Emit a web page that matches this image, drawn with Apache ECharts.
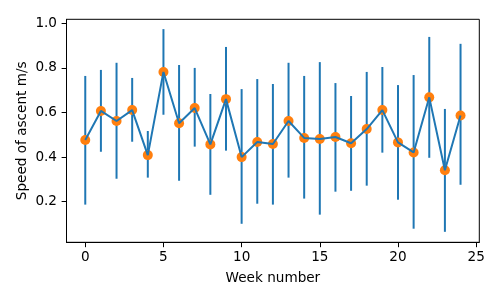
<!DOCTYPE html>
<html>
<head>
<meta charset="utf-8">
<script src="https://cdn.jsdelivr.net/npm/echarts@6/dist/echarts.min.js"></script>
<style>html,body{margin:0;padding:0;background:#fff}#c{width:500px;height:300px}</style>
</head>
<body>
<div id="c"></div>
<script>
const weeks = [0,1,2,3,4,5,6,7,8,9,10,11,12,13,14,15,16,17,18,19,20,21,22,23,24];
const speed = [0.477,0.607,0.562,0.611,0.409,0.782,0.552,0.620,0.457,0.660,0.400,0.468,0.459,0.562,0.486,0.481,0.490,0.462,0.526,0.611,0.466,0.421,0.668,0.341,0.587];
const lower = [0.187,0.424,0.303,0.469,0.308,0.590,0.294,0.447,0.231,0.429,0.101,0.191,0.187,0.308,0.214,0.142,0.245,0.249,0.272,0.420,0.209,0.079,0.397,0.065,0.276];
const upper = [0.764,0.791,0.823,0.755,0.517,0.974,0.813,0.800,0.683,0.894,0.705,0.750,0.728,0.823,0.764,0.826,0.732,0.674,0.782,0.804,0.723,0.768,0.939,0.616,0.908];
const xTicks = [0,5,10,15,20,25];
const yTicks = [0.2,0.4,0.6,0.8,1.0];

const font = 'DejaVu Sans';
const fs = 13.6;
const chart = echarts.init(document.getElementById('c'), null, {renderer:'canvas'});
const pts = weeks.map((w,i)=>[w,speed[i]]);
const bars = weeks.map((w,i)=>[w,lower[i],upper[i]]);
chart.setOption({
  animation:false,
  backgroundColor:'#fff',
  grid:{left:66.5,right:20.7,top:19.3,bottom:57.7,show:true,borderColor:'#000',borderWidth:1,backgroundColor:'transparent'},
  xAxis:{type:'value',min:-1.2,max:25.2,
    name:'Week number',nameLocation:'middle',nameGap:29,nameMoveOverlap:false,
    nameTextStyle:{fontFamily:font,fontSize:fs,color:'#000'},
    axisLine:{show:true,onZero:false,lineStyle:{color:'#000',width:1}},
    axisTick:{show:true,length:4.9,inside:false,customValues:xTicks,lineStyle:{color:'#000'}},
    axisLabel:{customValues:xTicks,fontFamily:font,fontSize:fs,color:'#000',margin:8},
    splitLine:{show:false}},
  yAxis:{type:'value',min:0.018,max:1.018,
    name:'Speed of ascent m/s',nameLocation:'middle',nameGap:37,nameRotate:90,nameMoveOverlap:false,
    nameTextStyle:{fontFamily:font,fontSize:fs,color:'#000'},
    axisLine:{show:true,onZero:false,lineStyle:{color:'#000',width:1}},
    axisTick:{show:true,length:4.9,inside:false,customValues:yTicks,lineStyle:{color:'#000'}},
    axisLabel:{customValues:yTicks,fontFamily:font,fontSize:fs,color:'#000',margin:9.5,formatter:v=>v.toFixed(1)},
    splitLine:{show:false}},
  series:[
    {type:'custom',data:bars,z:2,clip:false,
     renderItem:(params,api)=>{
       const a=api.coord([api.value(0),api.value(1)]);
       const b=api.coord([api.value(0),api.value(2)]);
       return {type:'line',shape:{x1:a[0],y1:a[1],x2:b[0],y2:b[1]},style:{stroke:'#1f77b4',lineWidth:2}};
     }},
    {type:'scatter',data:pts,z:3,symbol:'circle',symbolSize:10,itemStyle:{color:'#ff7f0e',opacity:1}},
    {type:'line',data:pts,z:4,showSymbol:false,symbol:'none',lineStyle:{color:'#1f77b4',width:2}}
  ]
});
</script>
</body>
</html>
